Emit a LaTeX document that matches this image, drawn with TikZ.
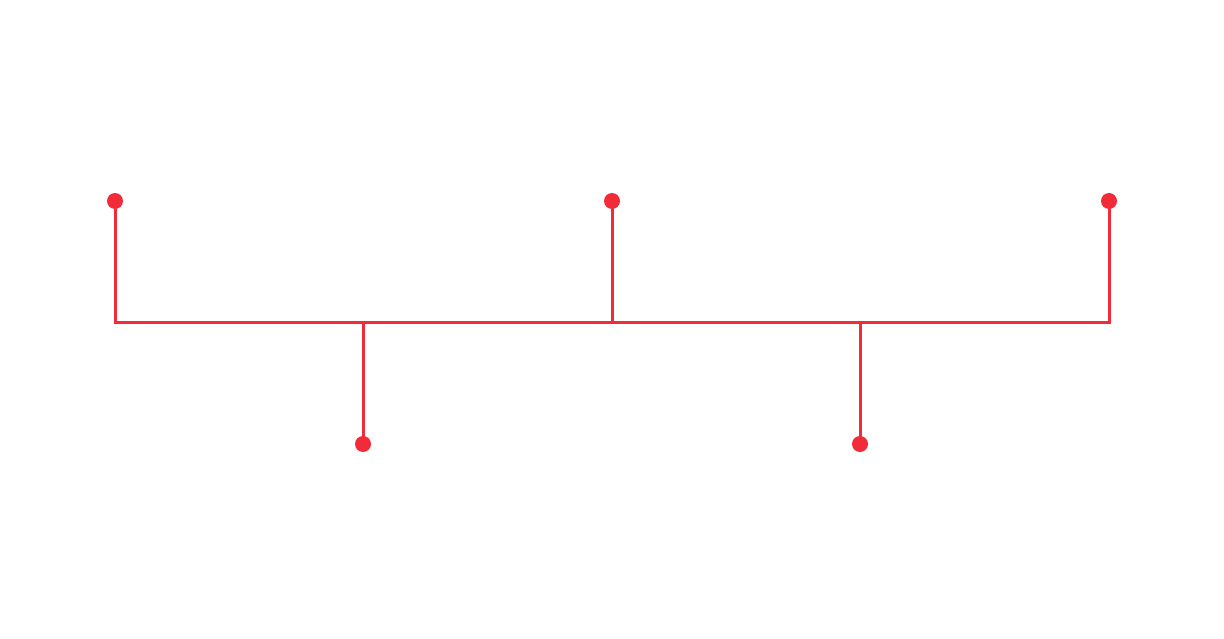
\documentclass[tikz,border=0pt]{standalone}
\definecolor{tlred}{RGB}{242,43,56}
\begin{document}
\begin{tikzpicture}[x=1pt,y=-1pt,
  dotnode/.style={circle,fill=tlred,inner sep=0pt,minimum size=16pt},
  link/.style={draw=tlred,line width=3pt}]
\useasboundingbox (0,0) rectangle (1224,639);
\node[dotnode] (t1) at (115,201) {};
\node[dotnode] (t2) at (612,201) {};
\node[dotnode] (t3) at (1109,201) {};
\node[dotnode] (b1) at (363,444) {};
\node[dotnode] (b2) at (860,444) {};
\coordinate (j1) at (115,322);
\coordinate (j2) at (363,322);
\coordinate (j3) at (612,322);
\coordinate (j4) at (860,322);
\coordinate (j5) at (1109,322);
\draw[link] (t1.center) -- (j1) -- (j5) -- (t3.center);
\draw[link] (t2.center) -- (j3);
\draw[link] (j2) -- (b1.center);
\draw[link] (j4) -- (b2.center);
\end{tikzpicture}
\end{document}
